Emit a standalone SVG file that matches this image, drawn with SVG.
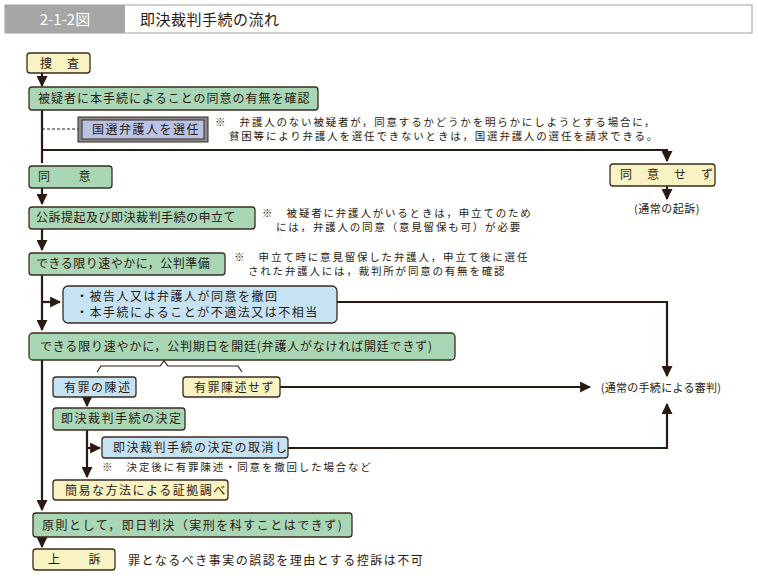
<svg xmlns="http://www.w3.org/2000/svg" width="758" height="576" viewBox="0 0 758 576">
<defs>
<marker id="ah" viewBox="0 0 10 10" refX="9" refY="5" markerWidth="5" markerHeight="5" orient="auto"><path d="M0,0L10,5L0,10z" fill="#2a1a12"/></marker>
<style>
text{font-family:"Noto Sans CJK JP","Liberation Sans",sans-serif;font-size:12px;fill:#2a1a12;letter-spacing:1.5px}
.g{fill:#a9d6b5;stroke:#3a2a20;stroke-width:1.3}
.y{fill:#f8f3c2;stroke:#3a2a20;stroke-width:1.3}
.b{fill:#c6e3f4;stroke:#3a2a20;stroke-width:1.3}
.ln{fill:none;stroke:#2a1a12;stroke-width:2.2}
.n{font-size:10.5px;letter-spacing:1.8px}
</style>
</defs>
<rect x="0" y="0" width="758" height="576" fill="#fff"/>
<g id="header">
<rect x="5" y="5" width="747" height="28" fill="#fff" stroke="#a0a0a0"/>
<rect x="5" y="5" width="120" height="28" fill="#a6a6a6"/>
<text x="65" y="25" text-anchor="middle" style="fill:#fff;font-size:15px;letter-spacing:0">2-1-2図</text>
<text x="140" y="25" style="font-size:15px;letter-spacing:0.5px">即決裁判手続の流れ</text>
</g>
<g id="connectors">
<path class="ln" d="M42,110V163"/>
<path class="ln" d="M42,73V86" marker-end="url(#ah)"/>
<path class="ln" d="M42,150H667V161" marker-end="url(#ah)"/>
<path class="ln" d="M667,186V199" marker-end="url(#ah)"/>
<path class="ln" d="M42,188V204" marker-end="url(#ah)"/>
<path class="ln" d="M42,229V250" marker-end="url(#ah)"/>
<path class="ln" d="M42,275V330" marker-end="url(#ah)"/>
<path class="ln" d="M42,302H60" marker-end="url(#ah)"/>
<path class="ln" d="M337,302H667V376" marker-end="url(#ah)"/>
<path class="ln" d="M42,360V510" marker-end="url(#ah)"/>
<path class="ln" d="M42,537V547" marker-end="url(#ah)"/>
<path class="ln" d="M280,387H590" marker-end="url(#ah)"/>
<path class="ln" d="M87,397V406" marker-end="url(#ah)"/>
<path class="ln" d="M87,430V477" marker-end="url(#ah)"/>
<path class="ln" d="M87,448H100" marker-end="url(#ah)"/>
<path class="ln" d="M288,448H667V404" marker-end="url(#ah)"/>
<path d="M42,129H78" stroke="#2a1a12" stroke-dasharray="3,2" fill="none"/>
<path d="M97,372L101,366H160L164,361L168,366H238L242,372" fill="none" stroke="#2a1a12" stroke-width="1.2"/>
</g>
<g id="n1"><rect class="y" x="27" y="53" width="63" height="20" rx="3"/><text x="40" y="68">捜　査</text></g>
<g id="n2"><rect class="g" x="29" y="87" width="289" height="23" rx="3"/><text x="38" y="103" style="letter-spacing:1px">被疑者に本手続によることの同意の有無を確認</text></g>
<g id="n3"><rect x="78" y="117" width="130" height="25" fill="#8a8a8a" stroke="#3a2a20"/><rect x="82" y="120" width="122" height="19" fill="#b9c3e6" stroke="#3a2a20"/><text x="92" y="134">国選弁護人を選任</text></g>
<g id="note1"><text class="n" x="215" y="126">※　弁護人のない被疑者が，同意するかどうかを明らかにしようとする場合に，</text><text class="n" x="229" y="140">貧困等により弁護人を選任できないときは，国選弁護人の選任を請求できる。</text></g>
<g id="n4"><rect class="g" x="29" y="166" width="83" height="22" rx="3"/><text x="38" y="181">同　　意</text></g>
<g id="n5"><rect class="y" x="610" y="164" width="105" height="22" rx="3"/><text x="620" y="179">同　意　せ　ず</text></g>
<g id="n6"><text x="667" y="213" text-anchor="middle" style="letter-spacing:0.5px;font-size:11px">(通常の起訴)</text></g>
<g id="n7"><rect class="g" x="29" y="207" width="226" height="22" rx="3"/><text x="36" y="222" style="letter-spacing:0.5px">公訴提起及び即決裁判手続の申立て</text></g>
<g id="note2"><text class="n" x="262" y="217">※　被疑者に弁護人がいるときは，申立てのため</text><text class="n" x="276" y="231">には，弁護人の同意（意見留保も可）が必要</text></g>
<g id="n8"><rect class="g" x="29" y="253" width="196" height="22" rx="3"/><text x="36" y="268" style="letter-spacing:0.5px">できる限り速やかに，公判準備</text></g>
<g id="note3"><text class="n" x="234" y="261">※　申立て時に意見留保した弁護人，申立て後に選任</text><text class="n" x="248" y="275">された弁護人には，裁判所が同意の有無を確認</text></g>
<g id="n9"><rect class="b" x="63" y="286" width="274" height="37" rx="5"/><text x="76" y="301">・被告人又は弁護人が同意を撤回</text><text x="76" y="317">・本手続によることが不適法又は不相当</text></g>
<g id="n10"><rect class="g" x="29" y="333" width="426" height="27" rx="4"/><text x="40" y="351" style="letter-spacing:0.8px">できる限り速やかに，公判期日を開廷(弁護人がなければ開廷できず)</text></g>
<g id="n11"><rect class="b" x="53" y="377" width="83" height="20" rx="3"/><text x="64" y="392">有罪の陳述</text></g>
<g id="n12"><rect class="y" x="183" y="377" width="97" height="20" rx="3"/><text x="194" y="392">有罪陳述せず</text></g>
<g id="n13"><text x="661" y="392" text-anchor="middle" style="letter-spacing:0.3px;font-size:11px">(通常の手続による審判)</text></g>
<g id="n14"><rect class="g" x="53" y="408" width="132" height="22" rx="3"/><text x="61" y="423">即決裁判手続の決定</text></g>
<g id="n15"><rect class="b" x="102" y="437" width="186" height="21" rx="3"/><text x="113" y="452">即決裁判手続の決定の取消し</text></g>
<g id="note4"><text class="n" x="102" y="471">※　決定後に有罪陳述・同意を撤回した場合など</text></g>
<g id="n16"><rect class="y" x="53" y="480" width="175" height="20" rx="3"/><text x="65" y="495">簡易な方法による証拠調べ</text></g>
<g id="n17"><rect class="g" x="33" y="513" width="319" height="24" rx="3"/><text x="42" y="530">原則として，即日判決（実刑を科すことはできず)</text></g>
<g id="n18"><rect class="y" x="33" y="549" width="82" height="21" rx="3"/><text x="48" y="564">上　　訴</text></g>
<g id="note5"><text x="128" y="565">罪となるべき事実の誤認を理由とする控訴は不可</text></g>
</svg>
